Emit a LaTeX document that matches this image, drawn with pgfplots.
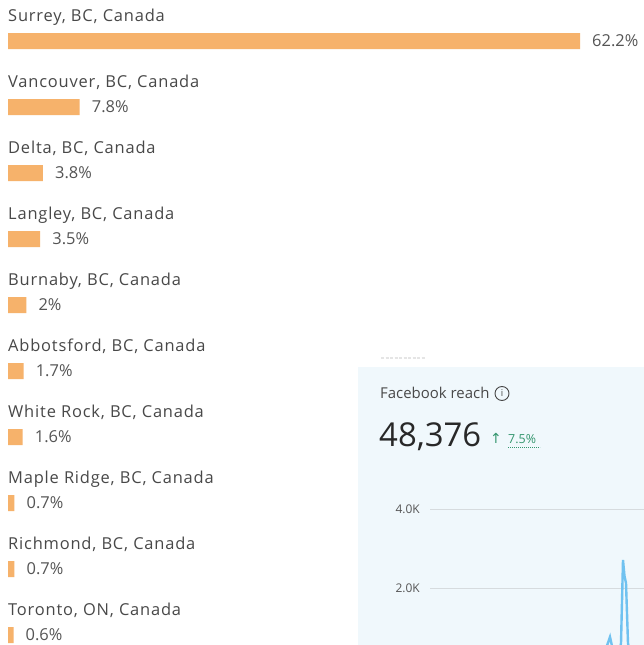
\documentclass[border=0pt]{standalone}
\usepackage{pgfplots}
\pgfplotsset{compat=1.18}
\usepackage{pgfplotstable}
\usepackage{fontspec}
\setmainfont{Open Sans}
\newfontfamily\labfont{Open Sans}[LetterSpace=5]
\newfontfamily\dejavu{DejaVu Sans}
\definecolor{barc}{RGB}{246,178,107}
\definecolor{lab}{RGB}{72,72,72}
\definecolor{val}{RGB}{85,85,85}
\definecolor{panel}{RGB}{240,248,252}
\definecolor{gridc}{RGB}{214,219,222}
\definecolor{linec}{RGB}{112,194,240}
\definecolor{grn}{RGB}{52,150,110}
\definecolor{big}{RGB}{40,40,40}

\pgfplotstableread{
y x lab
0 62.2 62.2
1 7.8 7.8
2 3.8 3.8
3 3.5 3.5
4 2 2
5 1.7 1.7
6 1.6 1.6
7 0.7 0.7
8 0.7 0.7
9 0.6 0.6
}\citydata

\begin{document}
\begin{tikzpicture}
\useasboundingbox (0bp,0bp) rectangle (644bp,645bp);
\fill[white] (0bp,0bp) rectangle (644bp,645bp);
\begin{axis}[at={(8bp,0bp)}, anchor=south west, scale only axis,
  width=572bp, height=645bp, xmin=0, xmax=62.2,
  ymin=-0.6212, ymax=9.1515, y dir=reverse, hide axis, clip=false,
  xbar, bar width=16bp, bar shift=0pt,
  point meta=explicit symbolic,
  nodes near coords={\pgfplotspointmeta\%},
  nodes near coords style={anchor=west, inner sep=0pt, xshift=12bp,
    font=\fontsize{16.5}{19}\selectfont, text=val}]
\addplot[fill=barc, draw=none] table[x=x, y=y, meta=lab]{\citydata};
\tikzset{cat/.style={anchor=base west, inner sep=0pt, text=lab, font=\labfont\fontsize{16.5}{18}\selectfont, yshift=20bp}}
\node[cat] at (axis cs:0,0) {Surrey, BC, Canada};
\node[cat] at (axis cs:0,1) {Vancouver, BC, Canada};
\node[cat] at (axis cs:0,2) {Delta, BC, Canada};
\node[cat] at (axis cs:0,3) {Langley, BC, Canada};
\node[cat] at (axis cs:0,4) {Burnaby, BC, Canada};
\node[cat] at (axis cs:0,5) {Abbotsford, BC, Canada};
\node[cat] at (axis cs:0,6) {White Rock, BC, Canada};
\node[cat] at (axis cs:0,7) {Maple Ridge, BC, Canada};
\node[cat] at (axis cs:0,8) {Richmond, BC, Canada};
\node[cat] at (axis cs:0,9) {Toronto, ON, Canada};
\end{axis}

% inset panel
\fill[panel] (358bp,0bp) rectangle (644bp,278bp);
\draw[black!10, line width=2bp, dash pattern=on 3bp off 1.5bp] (381bp,287bp) -- (425bp,287bp);
\node[anchor=base west, inner sep=0pt, text=lab, font=\fontsize{15}{18}\selectfont] at (380bp,246bp) {Facebook reach};
\node[circle, draw=lab, line width=0.9bp, minimum size=14bp, inner sep=0pt, text=lab, font=\fontsize{9.5}{10}\selectfont] at (502bp,251.5bp) {i};
\node[anchor=base west, inner sep=0pt, text=big, font=\fontsize{33}{36}\selectfont] at (379bp,198bp) {48,376};
\node[anchor=base west, inner sep=0pt, text=grn, font=\dejavu\fontsize{14}{14}\selectfont] at (490bp,201bp) {↑};
\node[anchor=base west, inner sep=0pt, text=grn, font=\fontsize{12.5}{13}\selectfont] at (508bp,201bp) {7.5\%};
\draw[grn, line width=0.7bp, dash pattern=on 1bp off 1bp] (508bp,198bp) -- (540bp,198bp);

\begin{axis}[at={(430bp,0bp)}, anchor=south west, scale only axis,
  width=214bp, height=155bp, xmin=430, xmax=644, ymin=557, ymax=4481,
  axis line style={draw=none}, xtick=\empty, ytick={2000,4000},
  yticklabels={2.0K,4.0K}, ymajorgrids, grid style={gridc, line width=0.8bp},
  major tick length=0pt, tick style={draw=none},
  yticklabel style={font=\fontsize{12}{13}\selectfont, text=val, inner sep=0pt, xshift=-10bp}]
\addplot[linec, line width=2.4bp] coordinates {
(596,300) (604,420) (607,540) (610,760) (613,420) (616,250) (619,380) (621,600)
(623,2709) (624.5,2300) (626,2127) (628,600) (631,250) (636,200) (644,250)};
\end{axis}
\end{tikzpicture}
\end{document}
